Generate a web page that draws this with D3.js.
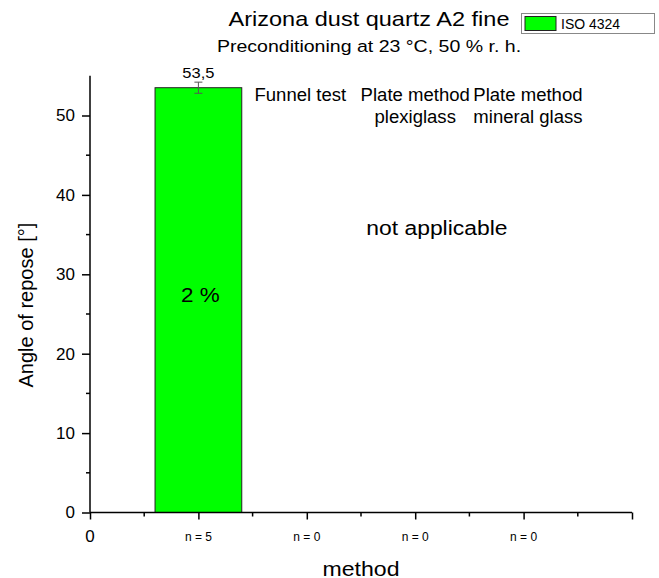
<!DOCTYPE html>
<html><head><meta charset="utf-8">
<script src="https://cdn.jsdelivr.net/npm/d3@7"></script>
<style>body{margin:0;background:#fff}svg{display:block}text{font-family:Arial,"Liberation Sans",sans-serif;fill:#000}</style>
</head><body>
<script>
const categories = [1, 2, 3, 4];
const nLabels = ["n = 5", "n = 0", "n = 0", "n = 0"];
const values = [53.5];
const errors = [0.7];
const barLabels = ["53,5"];
const insideLabels = ["2 %"];
const methodNames = [["Funnel test"], ["Plate method", "plexiglass"], ["Plate method", "mineral glass"]];
const methodPos = [1.94, 3.0, 4.04];
const yTicks = [0, 10, 20, 30, 40, 50];

const W = 659, H = 578;
const svg = d3.select("body").append("svg").attr("width", W).attr("height", H);
const x = d3.scaleLinear().domain([0, 5]).range([90, 632]);
const y = d3.scaleLinear().domain([0, 55]).range([512.5, 75.8]);

function txt(px, py, s, size, sx, anchor) {
  const g = svg.append("g").attr("transform", `translate(${px},${py}) scale(${sx},1)`);
  return g.append("text").attr("x", 0).attr("y", 0).attr("text-anchor", anchor || "middle")
    .attr("font-size", size).text(s);
}

// bars
const bw = x(0.8) - x(0);
svg.selectAll("rect.bar").data(values).enter().append("rect")
  .attr("x", (d, i) => x(categories[i]) - bw / 2)
  .attr("y", d => y(d)).attr("width", bw).attr("height", d => y(0) - y(d))
  .attr("fill", "#00ff00").attr("stroke", "#222").attr("stroke-width", 1);

// error bars
values.forEach((v, i) => {
  const cx = x(categories[i]);
  const g = svg.append("g").attr("stroke", "#555").attr("stroke-width", 1);
  g.append("line").attr("x1", cx).attr("x2", cx).attr("y1", y(v + errors[i])).attr("y2", y(v - errors[i]));
  g.append("line").attr("x1", cx - 4).attr("x2", cx + 4).attr("y1", y(v + errors[i])).attr("y2", y(v + errors[i]));
  g.append("line").attr("x1", cx - 4).attr("x2", cx + 4).attr("y1", y(v - errors[i])).attr("y2", y(v - errors[i]));
  txt(cx, y(v + errors[i]) - 4.5, barLabels[i], 15, 1.1);
  txt(cx + 2, y(26.5), insideLabels[i], 21, 1.07);
});

// y axis
const yAxis = d3.axisLeft(y).tickValues(yTicks).tickSize(8).tickPadding(7).tickFormat(d3.format("d"));
const gy = svg.append("g").attr("transform", `translate(${x(0)},0)`).call(yAxis);
gy.select(".domain").attr("d", `M0,${y(55)}V${y(0)}`).attr("stroke", "#000").attr("stroke-width", 1.5);
gy.selectAll(".tick line").attr("stroke-width", 1.5);
gy.selectAll(".tick text").attr("font-size", 17).attr("font-family", "Arial,'Liberation Sans',sans-serif");
const yMinor = d3.range(5, 55, 10);
svg.append("g").attr("transform", `translate(${x(0)},0)`).selectAll("line").data(yMinor).enter().append("line")
  .attr("x1", -4).attr("x2", 0).attr("y1", d => y(d)).attr("y2", d => y(d)).attr("stroke", "#000").attr("stroke-width", 1.5);

// x axis
const xAxis = d3.axisBottom(x).tickValues([0, 1, 2, 3, 4, 5]).tickSize(7).tickFormat("");
const gx = svg.append("g").attr("transform", `translate(0,${y(0)})`).call(xAxis);
gx.select(".domain").attr("d", `M${x(0)},0H${x(5)}`).attr("stroke", "#000").attr("stroke-width", 1.5);
gx.selectAll(".tick line").attr("stroke-width", 1.5);
svg.append("g").attr("transform", `translate(0,${y(0)})`).selectAll("line").data(d3.range(0.5, 5, 1)).enter().append("line")
  .attr("x1", d => x(d)).attr("x2", d => x(d)).attr("y1", 0).attr("y2", 4).attr("stroke", "#000").attr("stroke-width", 1.5);
svg.append("text").attr("x", x(0)).attr("y", 542).attr("text-anchor", "middle").attr("font-size", 17).text("0");
svg.selectAll("text.nl").data(categories).enter().append("text")
  .attr("x", d => x(d)).attr("y", 541).attr("text-anchor", "middle").attr("font-size", 12)
  .text((d, i) => nLabels[i]);

// axis titles
txt(x(2.5), 576, "method", 21, 1.1);
svg.append("text").attr("transform", `translate(33,${y(27.5) + 11}) rotate(-90)`).attr("text-anchor", "middle")
  .attr("font-size", 20).text("Angle of repose [°]");

// method annotations
methodNames.forEach((lines, i) => {
  lines.forEach((t, j) => {
    txt(x(methodPos[i]), 101 + j * 22, t, 17.5, 1.06);
  });
});
txt(x(3.2), 235, "not applicable", 21, 1.09);

// titles
txt(369, 26, "Arizona dust quartz A2 fine", 21, 1.12);
txt(369, 52, "Preconditioning at 23 °C, 50 % r. h.", 17, 1.15);

// legend
const lg = svg.append("g");
lg.append("rect").attr("x", 521.5).attr("y", 13.5).attr("width", 133).attr("height", 20).attr("fill", "#fff").attr("stroke", "#888");
lg.append("rect").attr("x", 525).attr("y", 16.5).attr("width", 31).attr("height", 14).attr("fill", "#00ff00").attr("stroke", "#222");
lg.append("text").attr("x", 561).attr("y", 29).attr("font-size", 14).text("ISO 4324");
</script>
</body></html>
